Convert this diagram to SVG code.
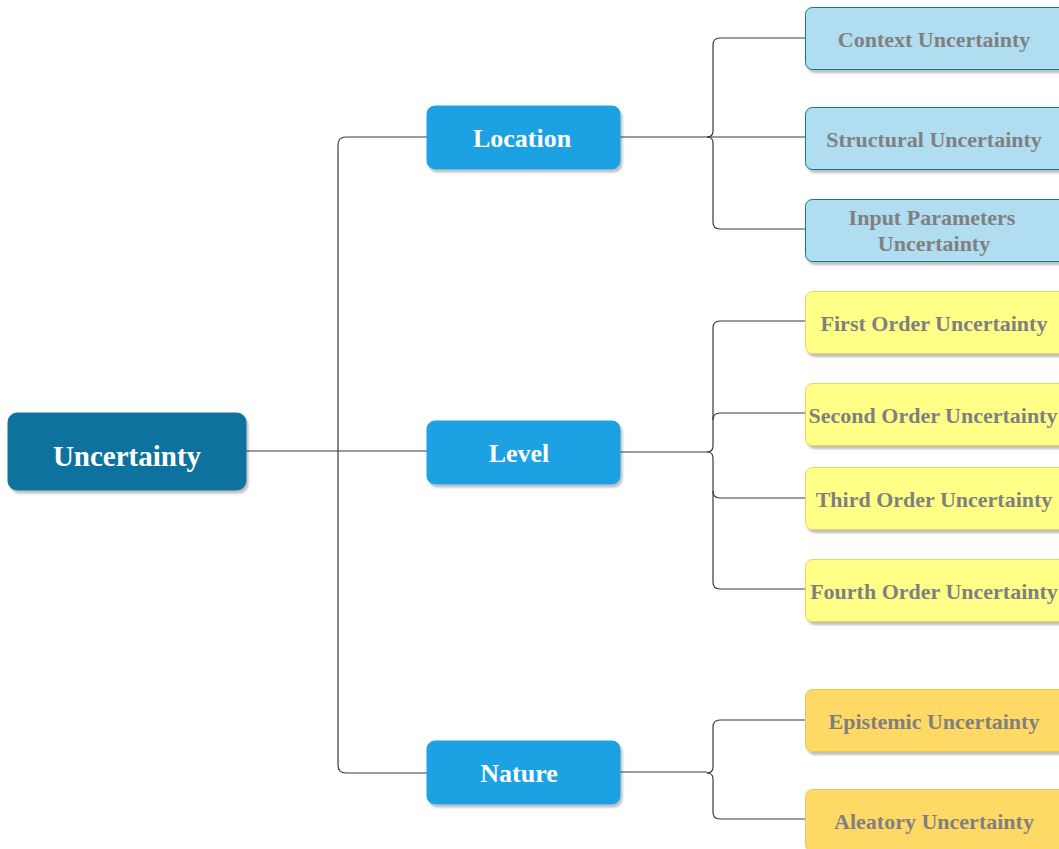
<svg xmlns="http://www.w3.org/2000/svg" width="1059" height="849" viewBox="0 0 1059 849">
  <defs>
    <filter id="shadow" x="-10%" y="-10%" width="130%" height="140%">
      <feDropShadow dx="2" dy="3" stdDeviation="1" flood-color="#000" flood-opacity="0.25"/>
    </filter>
  </defs>
  <style>
    .root rect { fill: #10739E; stroke: #10739E; filter: url(#shadow); }
    .mid rect { fill: #1BA1E2; stroke: #1BA1E2; filter: url(#shadow); }
    .blue rect { fill: #B1DDF0; stroke: #10739E; stroke-width: 1; filter: url(#shadow); }
    .yellow rect { fill: #FFFF88; stroke: #E6D55C; stroke-width: 1; filter: url(#shadow); }
    .orange rect { fill: #FFD966; stroke: #E8C850; stroke-width: 1; filter: url(#shadow); }
    text { font-family: "Liberation Serif", "Times New Roman", serif; font-weight: bold; text-anchor: middle; }
    .root text { fill: #FFFFFF; font-size: 29px; }
    .mid text { fill: #FFFFFF; font-size: 26px; }
    .leaf text { fill: #808080; font-size: 22px; }
    .links path { fill: none; stroke: #3A3A3A; stroke-width: 1.2; }
  </style>

  <rect width="1059" height="849" fill="#FFFFFF"/>

  <!-- connectors -->
  <g class="links">
    <!-- root to categories -->
    <path d="M246 451 H427"/>
    <path d="M427 137 H346 Q338 137 338 145 V765 Q338 773 346 773 H427" stroke="#555"/>
    <!-- Location branch -->
    <path d="M620 137 H805"/>
    <path d="M805 38 H720 Q713 38 713 45 V131 Q713 137 707 137"/>
    <path d="M805 229 H720 Q713 229 713 222 V143 Q713 137 707 137"/>
    <!-- Level branch -->
    <path d="M620 452 H707"/>
    <path d="M805 321 H720 Q713 321 713 328 V446 Q713 452 707 452"/>
    <path d="M805 413 H720 Q713 413 713 420"/>
    <path d="M805 498 H720 Q713 498 713 491"/>
    <path d="M805 589 H720 Q713 589 713 582 V458 Q713 452 707 452"/>
    <!-- Nature branch -->
    <path d="M620 772 H707"/>
    <path d="M805 720 H720 Q713 720 713 727 V767 Q713 773 707 773"/>
    <path d="M805 819 H720 Q713 819 713 812 V779 Q713 773 707 773"/>
  </g>

  <!-- root -->
  <g id="uncertainty" class="root">
    <rect x="8" y="413" width="238" height="77" rx="9"/>
    <text x="127" y="466">Uncertainty</text>
  </g>

  <!-- categories -->
  <g id="location" class="mid">
    <rect x="427" y="106" width="193" height="63" rx="8"/>
    <text x="522" y="147">Location</text>
  </g>
  <g id="level" class="mid">
    <rect x="427" y="421" width="193" height="63" rx="8"/>
    <text x="519" y="462">Level</text>
  </g>
  <g id="nature" class="mid">
    <rect x="427" y="741" width="193" height="63" rx="8"/>
    <text x="519" y="782">Nature</text>
  </g>

  <!-- location leaves -->
  <g id="context" class="leaf blue">
    <rect x="805.5" y="7.5" width="262" height="62" rx="7"/>
    <text x="934" y="47">Context Uncertainty</text>
  </g>
  <g id="structural" class="leaf blue">
    <rect x="805.5" y="107.5" width="262" height="62" rx="7"/>
    <text x="934" y="147">Structural Uncertainty</text>
  </g>
  <g id="input" class="leaf blue">
    <rect x="805.5" y="199.5" width="262" height="62" rx="7"/>
    <text x="932" y="225">Input Parameters</text>
    <text x="934" y="251">Uncertainty</text>
  </g>

  <!-- level leaves -->
  <g id="first-order" class="leaf yellow">
    <rect x="805.5" y="291.5" width="262" height="62" rx="7"/>
    <text x="934" y="331">First Order Uncertainty</text>
  </g>
  <g id="second-order" class="leaf yellow">
    <rect x="805.5" y="383.5" width="262" height="62" rx="7"/>
    <text x="933" y="423">Second Order Uncertainty</text>
  </g>
  <g id="third-order" class="leaf yellow">
    <rect x="805.5" y="467.5" width="262" height="62" rx="7"/>
    <text x="934" y="507">Third Order Uncertainty</text>
  </g>
  <g id="fourth-order" class="leaf yellow">
    <rect x="805.5" y="559.5" width="262" height="62" rx="7"/>
    <text x="934" y="599">Fourth Order Uncertainty</text>
  </g>

  <!-- nature leaves -->
  <g id="epistemic" class="leaf orange">
    <rect x="805.5" y="689.5" width="262" height="62" rx="7"/>
    <text x="934" y="729">Epistemic Uncertainty</text>
  </g>
  <g id="aleatory" class="leaf orange">
    <rect x="805.5" y="789.5" width="262" height="62" rx="7"/>
    <text x="934" y="829">Aleatory Uncertainty</text>
  </g>
</svg>
